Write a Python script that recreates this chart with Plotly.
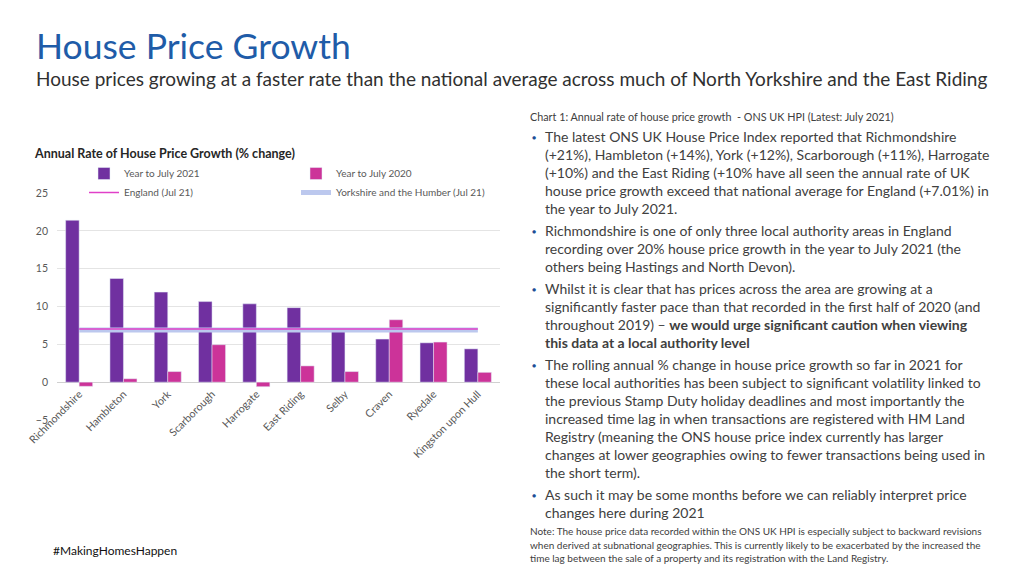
import plotly.graph_objects as go

categories = ["Richmondshire", "Hambleton", "York", "Scarborough", "Harrogate",
              "East Riding", "Selby", "Craven", "Ryedale", "Kingston upon Hull"]
year_2021 = [21.4, 13.7, 11.9, 10.65, 10.35, 9.85, 6.75, 5.7, 5.2, 4.4]
year_2020 = [-0.55, 0.45, 1.4, 4.95, -0.6, 2.15, 1.4, 8.25, 5.3, 1.3]
england_jul21 = 7.01
yorkshire_jul21 = 6.9
y_ticks = [-5, 0, 5, 10, 15, 20, 25]

FONT = "Lato"
BLUE = "#1f5ca8"
TEXT = "#404040"
W, H, OFF = 1024, 576, 8  # page body margin offsets the figure by 8px


def X(px):
    return (px - OFF) / W


def Y(py):
    return 1 - (py - OFF) / H


fig = go.Figure()
fig.add_trace(go.Bar(x=categories, y=year_2021, name="Year to July 2021",
                     marker_color="#7030A0", legend="legend", legendrank=1))
fig.add_trace(go.Bar(x=categories, y=year_2020, name="Year to July 2020",
                     marker_color="#CC3399", legend="legend2", legendrank=1))
fig.add_trace(go.Scatter(x=categories, y=[yorkshire_jul21] * len(categories),
                         name="Yorkshire and the Humber (Jul 21)", mode="lines",
                         line=dict(color="#bcc8ee", width=5),
                         legend="legend2", legendrank=2))
fig.add_trace(go.Scatter(x=categories, y=[england_jul21] * len(categories),
                         name="England (Jul 21)", mode="lines",
                         line=dict(color="#e040c8", width=1.5),
                         legend="legend", legendrank=2))

leg_common = dict(orientation="v", yanchor="top", xanchor="left",
                  bgcolor="rgba(0,0,0,0)", font=dict(size=10, color="#595959"),
                  itemwidth=30, tracegroupgap=0, traceorder="normal")

fig.update_layout(
    width=W, height=H,
    paper_bgcolor="white", plot_bgcolor="white",
    margin=dict(l=0, r=0, t=0, b=0, pad=0),
    font=dict(family=FONT, color=TEXT),
    barmode="group", bargap=0.39, bargroupgap=0,
    showlegend=True,
    legend=dict(x=X(84), y=Y(159), **leg_common),
    legend2=dict(x=X(296), y=Y(159), **leg_common),
    xaxis=dict(domain=[X(57), X(500)], tickangle=-45, automargin=False,
               anchor="free", position=Y(385),
               tickfont=dict(size=10.7, color="#595959"), showgrid=False,
               showline=False, ticks=""),
    yaxis=dict(domain=[Y(420), Y(193)], range=[-5, 25],
               automargin=False,
               tickvals=y_ticks, tickfont=dict(size=10.5, color="#595959"),
               gridcolor="#e4e4e4", zeroline=True, zerolinecolor="#d0d0d0",
               zerolinewidth=1, ticks="", ticklabelstandoff=8),
)

ann = []
ann.append(dict(x=X(35), y=Y(46), text="House Price Growth",
                font=dict(size=35.5, color=BLUE, family=FONT)))
ann.append(dict(x=X(35), y=Y(78),
                text="House prices growing at a faster rate than the national average across much of North Yorkshire and the East Riding",
                font=dict(size=19, color="#303030", family=FONT)))
ann.append(dict(x=X(33), y=Y(153),
                text="<b>Annual Rate of House Price Growth (% change)</b>",
                font=dict(size=12.5, color="#262626", family=FONT)))
ann.append(dict(x=X(529), y=Y(116),
                text="Chart 1: Annual rate of house price growth  - ONS UK HPI (Latest: July 2021)",
                font=dict(size=10.8, color="#404040", family=FONT)))

bullets = [
    (136, ["The latest ONS UK House Price Index reported that Richmondshire",
           "(+21%), Hambleton (+14%), York (+12%), Scarborough (+11%), Harrogate",
           "(+10%) and the East Riding (+10% have all seen the annual rate of UK",
           "house price growth exceed that national average for England (+7.01%) in",
           "the year to July 2021."]),
    (230, ["Richmondshire is one of only three local authority areas in England",
           "recording over 20% house price growth in the year to July 2021 (the",
           "others being Hastings and North Devon)."]),
    (288, ["Whilst it is clear that has prices across the area are growing at a",
           "significantly faster pace than that recorded in the first half of 2020 (and",
           "throughout 2019) – <b>we would urge significant caution when viewing</b>",
           "<b>this data at a local authority level</b>"]),
    (364, ["The rolling annual % change in house price growth so far in 2021 for",
           "these local authorities has been subject to significant volatility linked to",
           "the previous Stamp Duty holiday deadlines and most importantly the",
           "increased time lag in when transactions are registered with HM Land",
           "Registry (meaning the ONS house price index currently has larger",
           "changes at lower geographies owing to fewer transactions being used in",
           "the short term)."]),
    (494, ["As such it may be some months before we can reliably interpret price",
           "changes here during 2021"]),
]
for y0, lines in bullets:
    ann.append(dict(x=X(534), y=Y(y0 + 1), text="●",
                    font=dict(size=7, color="#1f4e96", family=FONT), xanchor="center"))
    for i, line in enumerate(lines):
        ann.append(dict(x=X(544), y=Y(y0 + 18 * i), text=line,
                        font=dict(size=14, color="#404040", family=FONT)))

notes = ["Note: The house price data recorded within the ONS UK HPI is especially subject to backward revisions",
         "when derived at subnational geographies. This is currently likely to be exacerbated by the increased the",
         "time lag between the sale of a property and its registration with the Land Registry."]
for i, line in enumerate(notes):
    ann.append(dict(x=X(529), y=Y(531 + 13.5 * i), text=line,
                    font=dict(size=10, color="#404040", family=FONT)))

ann.append(dict(x=X(52), y=Y(550), text="#MakingHomesHappen",
                font=dict(size=12, color="#111111", family=FONT)))

for a in ann:
    a.setdefault("xanchor", "left")
    a.update(xref="paper", yref="paper", yanchor="middle", showarrow=False,
             align="left", borderpad=0)
fig.update_layout(annotations=ann)

fig.write_html("out.html")
